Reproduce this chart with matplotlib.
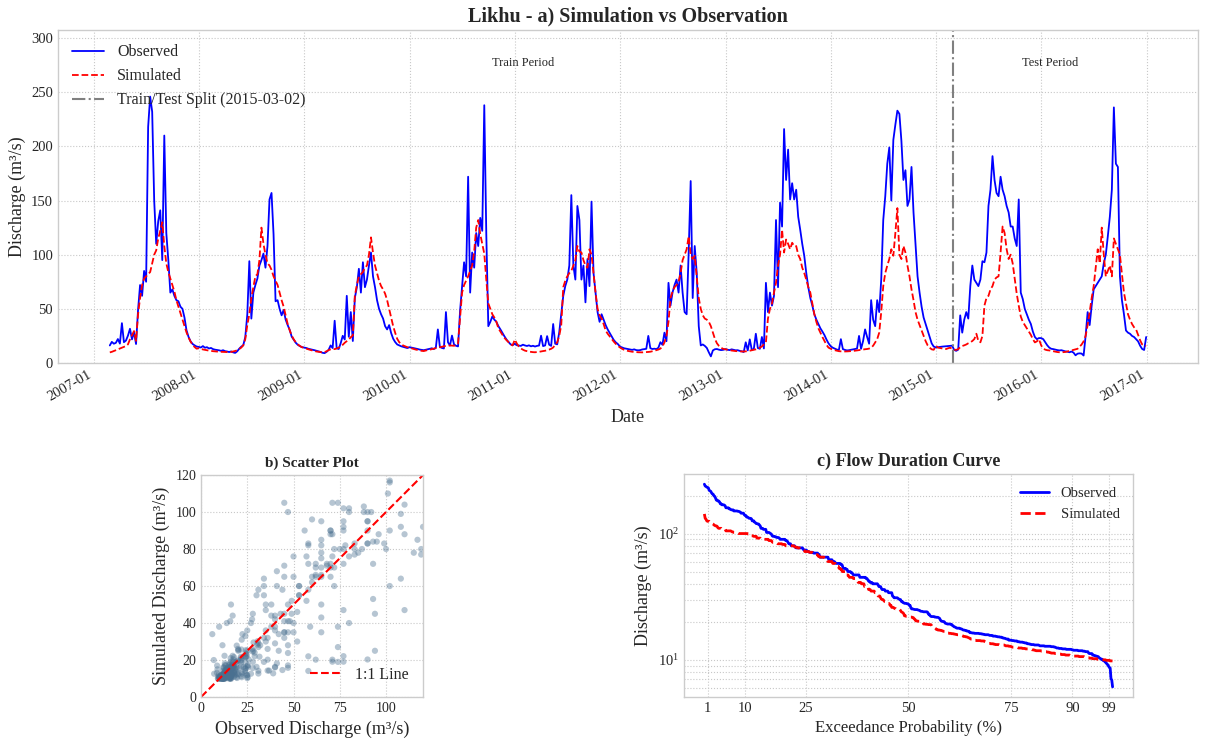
import matplotlib.pyplot as plt
import matplotlib.dates as mdates
import numpy as np
import pandas as pd

plt.style.use('seaborn-v0_8-whitegrid')
plt.rcParams['font.family'] = ['Liberation Serif', 'DejaVu Serif']
plt.rcParams['mathtext.fontset'] = 'stix'
plt.rcParams['grid.linestyle'] = ':'
plt.rcParams['grid.color'] = '#c8c8c8'

station = 'Likhu'
record_start = pd.Timestamp('2007-01-01')
split_date = pd.Timestamp('2015-03-02')
record_end = pd.Timestamp('2017-01-01')

# weekly discharge (m3/s); week 0 is 1 January of each year, 2007 starts at week 8
obs_2007 = [16.2, 19.5, 17.8, 18.6, 22.1, 17.9, 36.8, 19.2, 20.7, 25.3,
            31.6, 21.8, 28.4, 17.5, 49, 72, 62, 85, 75, 218,
            246, 232, 150, 110, 131, 141, 95, 210, 120, 95,
            65, 68, 62, 58, 57, 52, 50, 42, 30.3, 24.2,
            20.1, 17.6, 16.3, 15.2]
sim_2007 = [9.8, 10.3, 11.0, 11.8, 12.6, 13.5, 14.3, 14.9, 15.6, 17.2,
            21.8, 25.7, 29.5, 20.4, 45, 60, 72, 78, 80, 82,
            84, 92, 100, 104, 115, 122, 130, 108, 92, 84,
            78, 72, 66, 58, 52, 46, 40, 34, 28.3, 23.6,
            19.8, 16.9, 14.8, 13.2]
obs_2008 = [14.8, 14.3, 15.6, 14.1, 14.6, 13.4, 13.9, 12.8, 12.3, 12.0,
            11.7, 11.2, 11.8, 10.9, 10.6, 10.1, 10.7, 9.8, 9.3, 10.8,
            13.2, 15.1, 16.4, 24.0, 45, 94, 41, 65, 72, 78,
            90, 95, 101, 88, 108, 151, 157, 119, 57, 58,
            50, 44, 49, 40, 35, 30.6, 24.3, 21.5, 18.7, 16.8,
            15.6, 14.7]
sim_2008 = [13.6, 13.0, 12.5, 12.1, 11.7, 11.4, 11.1, 10.9, 10.7, 10.5,
            10.4, 10.3, 10.2, 10.1, 10.0, 10.0, 10.2, 10.6, 11.1, 11.8,
            12.9, 14.2, 16.3, 22, 35, 45, 60, 70, 80, 82,
            95, 125, 110, 100, 92, 90, 86, 80, 76, 72,
            65, 58, 52, 44, 36, 30.2, 25.4, 21.8, 19.1, 17.2,
            15.8, 14.6]
obs_2009 = [14.2, 13.8, 13.1, 12.7, 12.2, 11.8, 11.3, 10.9, 10.2, 9.4,
            9.1, 10.3, 12.1, 16.2, 13.8, 39, 13.6, 12.9, 18.3, 25.1,
            21.7, 62, 24.2, 47, 20.3, 60, 70, 87, 65, 93,
            70, 77, 90, 102, 80, 70, 58, 50, 45, 41,
            34, 31, 35, 27.6, 22.4, 19.3, 17.1, 16.2, 15.4, 14.9,
            14.3, 13.8]
sim_2009 = [13.9, 13.2, 12.6, 12.0, 11.5, 11.0, 10.6, 10.3, 10.0, 9.8,
            10.1, 10.8, 11.9, 12.6, 13.1, 12.8, 13.4, 14.2, 15.3, 16.8,
            18.7, 20.2, 21.6, 23.8, 25.4, 62, 72, 80, 82, 84,
            88, 90, 100, 116, 102, 90, 83, 76, 71, 68,
            64, 58, 50, 42, 34, 27.8, 22.3, 19.2, 17.4, 16.1,
            15.3, 14.6]
obs_2010 = [14.6, 14.2, 13.7, 13.3, 12.9, 12.4, 12.1, 11.8, 12.2, 12.7,
            13.1, 13.6, 12.8, 14.1, 31, 14.8, 13.9, 13.4, 47, 19.2,
            16.1, 25.3, 17.2, 15.9, 15.3, 48, 70, 93, 80, 172,
            65, 102, 88, 120, 108, 134, 122, 238, 119, 34,
            38, 43, 40, 38, 34, 31, 27.8, 24.6, 21.7, 19.4,
            17.3, 16.4]
sim_2010 = [14.1, 13.5, 12.9, 12.4, 12.0, 11.6, 11.2, 11.0, 11.5, 12.0,
            12.3, 12.8, 13.2, 13.7, 14.2, 14.6, 15.1, 15.5, 15.8, 16.0,
            16.2, 16.1, 15.9, 16.4, 18, 41, 65, 72, 76, 80,
            85, 90, 103, 125, 132, 119, 110, 101, 77, 55,
            50, 45, 42, 38, 32, 29, 26, 23.2, 21.1, 19.2,
            17.4, 16.2]
obs_2011 = [17.8, 16.4, 16.1, 15.8, 16.9, 16.2, 15.7, 16.3, 15.4, 15.9,
            15.2, 15.8, 16.1, 25.2, 15.6, 16.2, 24.8, 16.9, 15.8, 36,
            17.8, 17.2, 28.3, 45, 62, 71, 77, 90, 155, 90,
            77, 145, 132, 77, 90, 56, 96, 71, 149, 83,
            65, 47, 38, 45, 40, 35, 31, 27.8, 24.7, 21.3,
            19.1, 17.6]
sim_2011 = [21.6, 17.9, 15.2, 13.4, 12.3, 11.4, 10.9, 10.5, 10.2, 10.0,
            9.9, 10.1, 10.3, 10.7, 11.0, 11.3, 11.8, 12.4, 13.1, 14.3,
            16.8, 19.2, 25, 35, 70, 76, 80, 83, 85, 90,
            95, 108, 103, 102, 95, 90, 88, 105, 100, 83,
            65, 50, 44, 41, 36, 30, 27, 24.6, 22.1, 19.8,
            17.7, 15.9]
obs_2012 = [15.1, 14.3, 13.6, 13.2, 12.8, 12.4, 12.1, 12.6, 11.9, 11.7,
            11.9, 12.5, 12.8, 13.1, 25, 13.7, 12.9, 13.2, 12.8, 14.1,
            19.2, 16.8, 28, 20.1, 74, 53, 65, 72, 77, 65,
            90, 65, 47, 45, 102, 168, 60, 108, 83, 34,
            16.2, 17.1, 15.8, 13.9, 9.8, 6.1, 11.6, 12.7, 12.9, 12.3,
            11.9, 12.1]
sim_2012 = [14.3, 13.1, 12.2, 11.6, 11.1, 10.7, 10.4, 10.2, 10.0, 9.9,
            9.8, 9.8, 9.9, 10.1, 10.2, 10.4, 10.8, 11.3, 11.8, 12.4,
            13.3, 15.2, 19, 25, 38, 60, 66, 70, 72, 75,
            83, 95, 100, 105, 117, 100, 96, 99, 80, 60,
            50, 44, 41, 40, 38, 34, 28, 22.3, 18.2, 15.8,
            14.2, 13.1]
obs_2013 = [12.8, 12.2, 11.9, 12.6, 12.1, 11.7, 11.8, 11.2, 10.8, 10.1,
            19.1, 11.6, 21.8, 12.2, 12.9, 27, 13.8, 13.1, 24, 13.4,
            74, 47, 65, 53, 62, 132, 70, 148, 126, 216,
            169, 197, 151, 166, 151, 160, 135, 123, 110, 99,
            83, 70, 60, 53, 45, 40, 36, 32, 29, 25.8,
            21.7, 18.2]
sim_2013 = [12.6, 12.2, 11.8, 11.5, 11.2, 11.0, 10.8, 10.7, 10.6, 10.6,
            10.7, 10.9, 11.3, 11.7, 12.1, 12.6, 13.2, 14.1, 15.3, 17.1,
            19, 41, 50, 55, 65, 74, 90, 100, 123, 102,
            114, 110, 105, 111, 108, 108, 100, 96, 88, 83,
            77, 70, 65, 55, 45, 38, 32, 28, 24, 20.3,
            16.8, 14.2]
obs_2014 = [15.4, 14.1, 13.2, 12.4, 11.9, 22, 12.8, 12.1, 11.6, 11.8,
            12.2, 12.7, 12.9, 13.3, 25, 13.1, 20.2, 31, 24.1, 17.8,
            58, 40, 34, 58, 47, 77, 132, 154, 184, 199,
            150, 206, 220, 233, 230, 205, 169, 178, 145, 151,
            181, 139, 110, 80, 65, 52, 42, 36, 30, 23.8,
            18.1, 15.2]
sim_2014 = [13.1, 12.4, 11.8, 11.3, 10.9, 10.7, 10.6, 10.6, 10.7, 10.8,
            10.9, 11.1, 11.3, 11.6, 11.9, 12.2, 12.4, 12.7, 12.9, 13.3,
            14.1, 16, 19, 22, 28, 47, 71, 83, 90, 96,
            105, 99, 120, 143, 100, 96, 108, 102, 90, 80,
            68, 58, 47, 40, 35, 30, 25, 20.2, 16.3, 14.1,
            12.6, 12.2]
obs_2015 = [14.3, 14.6, 14.9, 15.1, 15.3, 15.4, 15.6, 15.8, 16.0, 12.1,
            11.2, 12.3, 44, 28, 40, 47, 41, 71, 90, 77,
            74, 71, 77, 94, 93, 102, 145, 160, 191, 169,
            157, 154, 172, 160, 154, 145, 139, 126, 126, 115,
            108, 151, 65, 59, 50, 45, 40, 36, 29, 24,
            22, 23]
sim_2015 = [15.8, 14.2, 13.8, 13.4, 13.1, 12.9, 13.6, 14.1, 13.2, 12.3,
            12.1, 12.8, 14.6, 15.7, 16.3, 17.1, 18.2, 19.1, 20.3, 22.1,
            27, 20.2, 19.1, 25, 53, 60, 62, 68, 71, 77,
            79, 80, 102, 126, 120, 105, 96, 100, 92, 78,
            64, 53, 43, 38, 35, 32, 29, 26, 22, 19,
            20, 22]
obs_2016 = [23, 22, 19.2, 16.3, 14.2, 13.1, 12.8, 12.3, 11.9, 11.6,
            11.8, 11.2, 10.7, 10.4, 9.9, 10.6, 9.6, 7.1, 8.6, 8.9,
            8.7, 6.9, 25, 47, 35, 53, 68, 71, 74, 77,
            80, 92, 100, 117, 135, 160, 236, 184, 181, 80,
            58, 45, 30, 28, 27, 25, 24, 22, 20, 16,
            13, 12, 24]
sim_2016 = [16.2, 13.4, 12.3, 11.8, 11.6, 11.2, 10.9, 10.4, 10.1, 9.9,
            9.9, 10.0, 10.2, 10.6, 11.1, 11.6, 12.1, 12.6, 13.1, 15,
            17, 20, 25, 35, 47, 60, 71, 88, 105, 92,
            125, 100, 80, 85, 90, 80, 115, 110, 105, 100,
            82, 65, 55, 45, 40, 36, 33, 31, 26, 21,
            17.2, 16.1, 15.8]

obs_years = [obs_2007, obs_2008, obs_2009, obs_2010, obs_2011,
             obs_2012, obs_2013, obs_2014, obs_2015, obs_2016]
sim_years = [sim_2007, sim_2008, sim_2009, sim_2010, sim_2011,
             sim_2012, sim_2013, sim_2014, sim_2015, sim_2016]


def week_dates(year, n, first_week=0):
    start = pd.Timestamp(f'{year}-01-01')
    return [start + pd.Timedelta(days=7 * w) for w in range(first_week, first_week + n)]


dates = []
for i, vals in enumerate(obs_years):
    dates += week_dates(2007 + i, len(vals), 8 if i == 0 else 0)
dates = pd.DatetimeIndex(dates)
obs = np.concatenate([np.array(v, dtype=float) for v in obs_years])
sim = np.concatenate([np.array(v, dtype=float) for v in sim_years])

fig = plt.figure(figsize=(12.08, 7.42), dpi=100)

# a) time series
ax1 = fig.add_axes([0.048, 0.5108, 0.9437, 0.4488])
ax1.plot(dates, obs, color='blue', lw=1.3, label='Observed')
ax1.plot(dates, sim, color='red', ls='--', lw=1.3, label='Simulated')
ax1.axvline(split_date, color='gray', ls='-.', lw=1.5,
            label=f'Train/Test Split ({split_date:%Y-%m-%d})')
ymax = obs.max() * 1.25
ax1.set_ylim(0, ymax)
ax1.text(record_start + (split_date - record_start) / 2, ymax * 0.9, 'Train Period',
         ha='center', va='center', fontsize=9)
ax1.text(split_date + (record_end - split_date) / 2, ymax * 0.9, 'Test Period',
         ha='center', va='center', fontsize=9)
ax1.xaxis.set_major_locator(mdates.YearLocator())
ax1.xaxis.set_major_formatter(mdates.DateFormatter('%Y-%m'))
plt.setp(ax1.get_xticklabels(), rotation=30, ha='right')
ax1.tick_params(labelsize=10.5)
ax1.set_xlabel('Date', fontsize=13)
ax1.set_ylabel('Discharge (m³/s)', fontsize=13)
ax1.set_title(f'{station} - a) Simulation vs Observation', fontsize=14.5, fontweight='bold')
ax1.legend(loc='upper left', fontsize=11.5, frameon=False)

# b) scatter
lim = 120
ax2 = fig.add_axes([0.1664, 0.0606, 0.1838, 0.2992])
ax2.scatter(obs, sim, s=20, color='#4a7090', alpha=0.4, edgecolors='none')
ax2.plot([0, lim], [0, lim], 'r--', lw=1.5, label='1:1 Line')
ax2.set_xlim(0, lim)
ax2.set_ylim(0, lim)
ax2.set_xticks([0, 25, 50, 75, 100])
ax2.set_yticks(np.arange(0, lim + 1, 20))
ax2.tick_params(labelsize=10)
ax2.set_xlabel('Observed Discharge (m³/s)', fontsize=13)
ax2.set_ylabel('Simulated Discharge (m³/s)', fontsize=13)
ax2.set_title('b) Scatter Plot', fontsize=11, fontweight='bold')
ax2.legend(loc='lower right', fontsize=11.5, frameon=False)

# c) flow duration curve
n = len(obs)
exceed = np.arange(1, n + 1) / (n + 1) * 100
ax3 = fig.add_axes([0.5662, 0.0606, 0.3717, 0.3005])
ax3.plot(exceed, np.sort(obs)[::-1], color='blue', lw=2, label='Observed')
ax3.plot(exceed, np.sort(sim)[::-1], color='red', ls='--', lw=2, label='Simulated')
ax3.set_yscale('log')
ax3.set_xticks([1, 10, 25, 50, 75, 90, 99])
ax3.grid(True, which='both')
ax3.tick_params(labelsize=10.5)
ax3.set_xlabel('Exceedance Probability (%)', fontsize=12)
ax3.set_ylabel('Discharge (m³/s)', fontsize=13)
ax3.set_title('c) Flow Duration Curve', fontsize=13, fontweight='bold')
ax3.legend(loc='upper right', fontsize=10.5, frameon=False)

fig.savefig('out.png', dpi=100)
